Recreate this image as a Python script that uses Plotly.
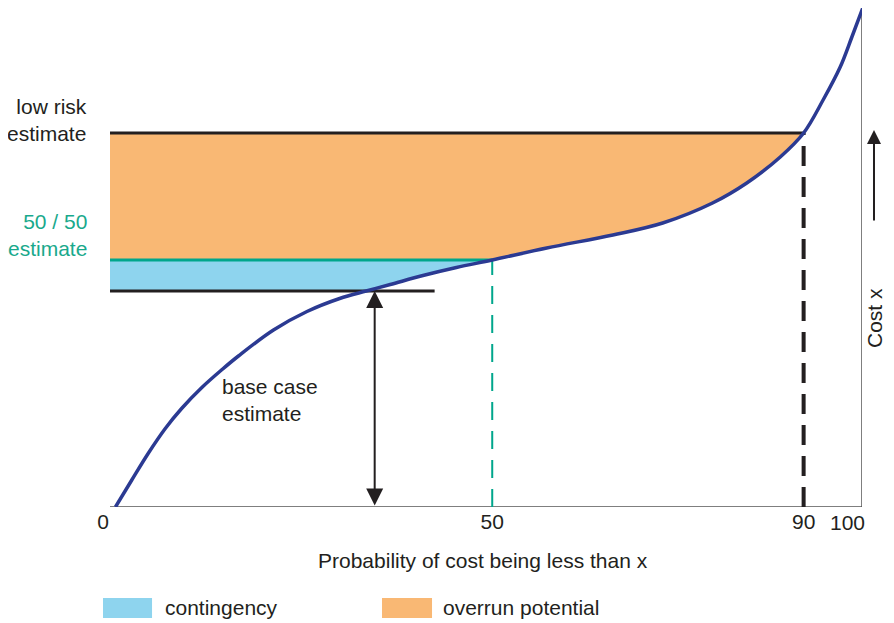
import plotly.graph_objects as go

# cumulative cost curve (x = probability position, y = cost)
CURVE_X = [1.6, 3.7, 5.8, 8.0, 10.1, 12.7, 15.3, 17.4, 21.9, 26.2, 30.4, 33.8, 36.9,
           41.1, 45.4, 50.0, 57.0, 65.5, 71.9, 78.3, 82.7, 87.0, 90.0, 92.5, 94.7,
           96.2, 97.6]
CURVE_Y = [0.0, 5.4, 10.7, 15.7, 19.7, 23.9, 27.5, 30.2, 35.4, 39.1, 41.7, 43.2, 44.5,
           46.3, 47.9, 49.4, 51.8, 54.4, 56.8, 60.8, 64.8, 70.0, 74.8, 81.4, 88.0,
           94.0, 99.8]

LOW_RISK = 74.8      # low risk estimate (90 %)
FIFTY_FIFTY = 49.4   # 50 / 50 estimate
BASE_CASE = 43.2     # base case estimate
P_BASE = 33.8        # where the curve meets the base case
P_ARROW = 34.9       # base case arrow position
P50 = 50
P90 = 90
X_START = 0.9
X_END = 97.5
Y_TOP = 99.8
BASE_LINE_END = 42.6

XTICKS = [0, 50, 90]
XTICK_TEXT = ["0", "50", "90"]

FONT = "Liberation Sans, Arial, sans-serif"
INK = "#231F20"
TEAL = "#00A68C"
ORANGE = "#F9B874"
SKY = "#8ED4EE"
NAVY = "#2B3A92"
FS = 21

fig = go.Figure()

# overrun potential: between low risk line and max(50/50 line, curve)
seg = [(x, y) for x, y in zip(CURVE_X, CURVE_Y) if P50 <= x <= P90][::-1]
ox = [X_START, P90] + [p[0] for p in seg] + [X_START]
oy = [LOW_RISK, LOW_RISK] + [p[1] for p in seg] + [FIFTY_FIFTY]
fig.add_trace(go.Scatter(x=ox, y=oy, fill="toself", fillcolor=ORANGE, mode="none",
                         hoverinfo="skip", showlegend=False))

# contingency: between 50/50 line and max(base case, curve)
seg = [(x, y) for x, y in zip(CURVE_X, CURVE_Y) if P_BASE <= x <= P50][::-1]
cx = [X_START, P50] + [p[0] for p in seg] + [X_START]
cy = [FIFTY_FIFTY, FIFTY_FIFTY] + [p[1] for p in seg] + [BASE_CASE]
fig.add_trace(go.Scatter(x=cx, y=cy, fill="toself", fillcolor=SKY, mode="none",
                         hoverinfo="skip", showlegend=False))


def line(xs, ys, color, width=3, dash="solid"):
    fig.add_trace(go.Scatter(x=xs, y=ys, mode="lines",
                             line=dict(color=color, width=width, dash=dash),
                             hoverinfo="skip", showlegend=False))


# axes frame (bottom + right)
line([X_START, X_END], [0, 0], "#555555", width=1.5)
line([X_END, X_END], [0, Y_TOP], "#555555", width=1.5)

line([X_START, P90], [LOW_RISK, LOW_RISK], INK)
line([X_START, P50], [FIFTY_FIFTY, FIFTY_FIFTY], TEAL)
line([X_START, BASE_LINE_END], [BASE_CASE, BASE_CASE], INK)

line([P50, P50], [0, FIFTY_FIFTY], TEAL, width=2, dash="18px,11px")
line([P90, P90], [0, LOW_RISK], INK, width=4, dash="20px,11px")

fig.add_trace(go.Scatter(x=CURVE_X, y=CURVE_Y, mode="lines",
                         line=dict(color=NAVY, width=3.5, shape="spline", smoothing=1.0),
                         hoverinfo="skip", showlegend=False))

# double arrow for base case
fig.add_annotation(x=P_ARROW, y=BASE_CASE, ax=P_ARROW, ay=0, axref="x", ayref="y",
                   xref="x", yref="y", text="", showarrow=True, arrowside="end+start",
                   arrowhead=2, arrowsize=1.7, arrowwidth=2, arrowcolor=INK)

txt = dict(family=FONT, size=FS, color=INK)
fig.add_annotation(x=-0.0191, y=77.4, xref="paper", yref="y", text="low risk<br>estimate",
                   showarrow=False, xanchor="right", align="right", font=txt)
fig.add_annotation(x=-0.0191, y=54.4, xref="paper", yref="y", text="50 / 50<br>estimate",
                   showarrow=False, xanchor="right", align="right",
                   font=dict(family=FONT, size=FS, color="#19A98C"))
fig.add_annotation(x=15.0, y=21.4, xref="x", yref="y", text="base case<br>estimate",
                   showarrow=False, xanchor="left", align="left", font=txt)
fig.add_annotation(x=X_END, y=0, xref="x", yref="y", yshift=-15, xshift=5, text="100",
                   showarrow=False, xanchor="right", yanchor="middle", font=txt)
fig.add_annotation(x=0.5, y=0, xref="paper", yref="paper", yshift=-53,
                   text="Probability of cost being less than x",
                   showarrow=False, yanchor="middle", font=txt)

# cost axis label and arrow
fig.add_annotation(x=1.0158, y=37.8, xref="paper", yref="y", text="Cost x", textangle=-90,
                   showarrow=False, xanchor="center", yanchor="middle", font=txt)
fig.add_annotation(x=1.0158, y=75.4, xref="paper", yref="y", ax=0, ay=92, text="",
                   showarrow=True, arrowhead=2, arrowsize=1.4, arrowwidth=2, arrowcolor=INK)

# legend
fig.add_shape(type="rect", xref="paper", yref="paper", x0=0, x1=0.0646, y0=-0.2224, y1=-0.1824,
              fillcolor=SKY, line_width=0)
fig.add_annotation(x=0.079, y=-0.2024, xref="paper", yref="paper", text="contingency",
                   showarrow=False, xanchor="left", yanchor="middle", font=txt)
fig.add_shape(type="rect", xref="paper", yref="paper", x0=0.3676, x1=0.4335, y0=-0.2224, y1=-0.1824,
              fillcolor=ORANGE, line_width=0)
fig.add_annotation(x=0.4453, y=-0.2024, xref="paper", yref="paper", text="overrun potential",
                   showarrow=False, xanchor="left", yanchor="middle", font=txt)

# the page body adds an 8px margin, so the figure is sized for what is left of the window
fig.update_layout(
    width=886, height=615,
    margin=dict(l=95, r=32, t=0, b=116),
    plot_bgcolor="white", paper_bgcolor="white",
    font=dict(family=FONT, size=FS, color=INK),
    xaxis=dict(range=[0, X_END], tickvals=XTICKS, ticktext=XTICK_TEXT, showgrid=False,
               zeroline=False, showline=False, ticks="", tickfont=dict(size=FS)),
    yaxis=dict(range=[0, Y_TOP], showgrid=False, zeroline=False, showline=False,
               showticklabels=False, ticks=""),
)

fig.write_html("out.html")
